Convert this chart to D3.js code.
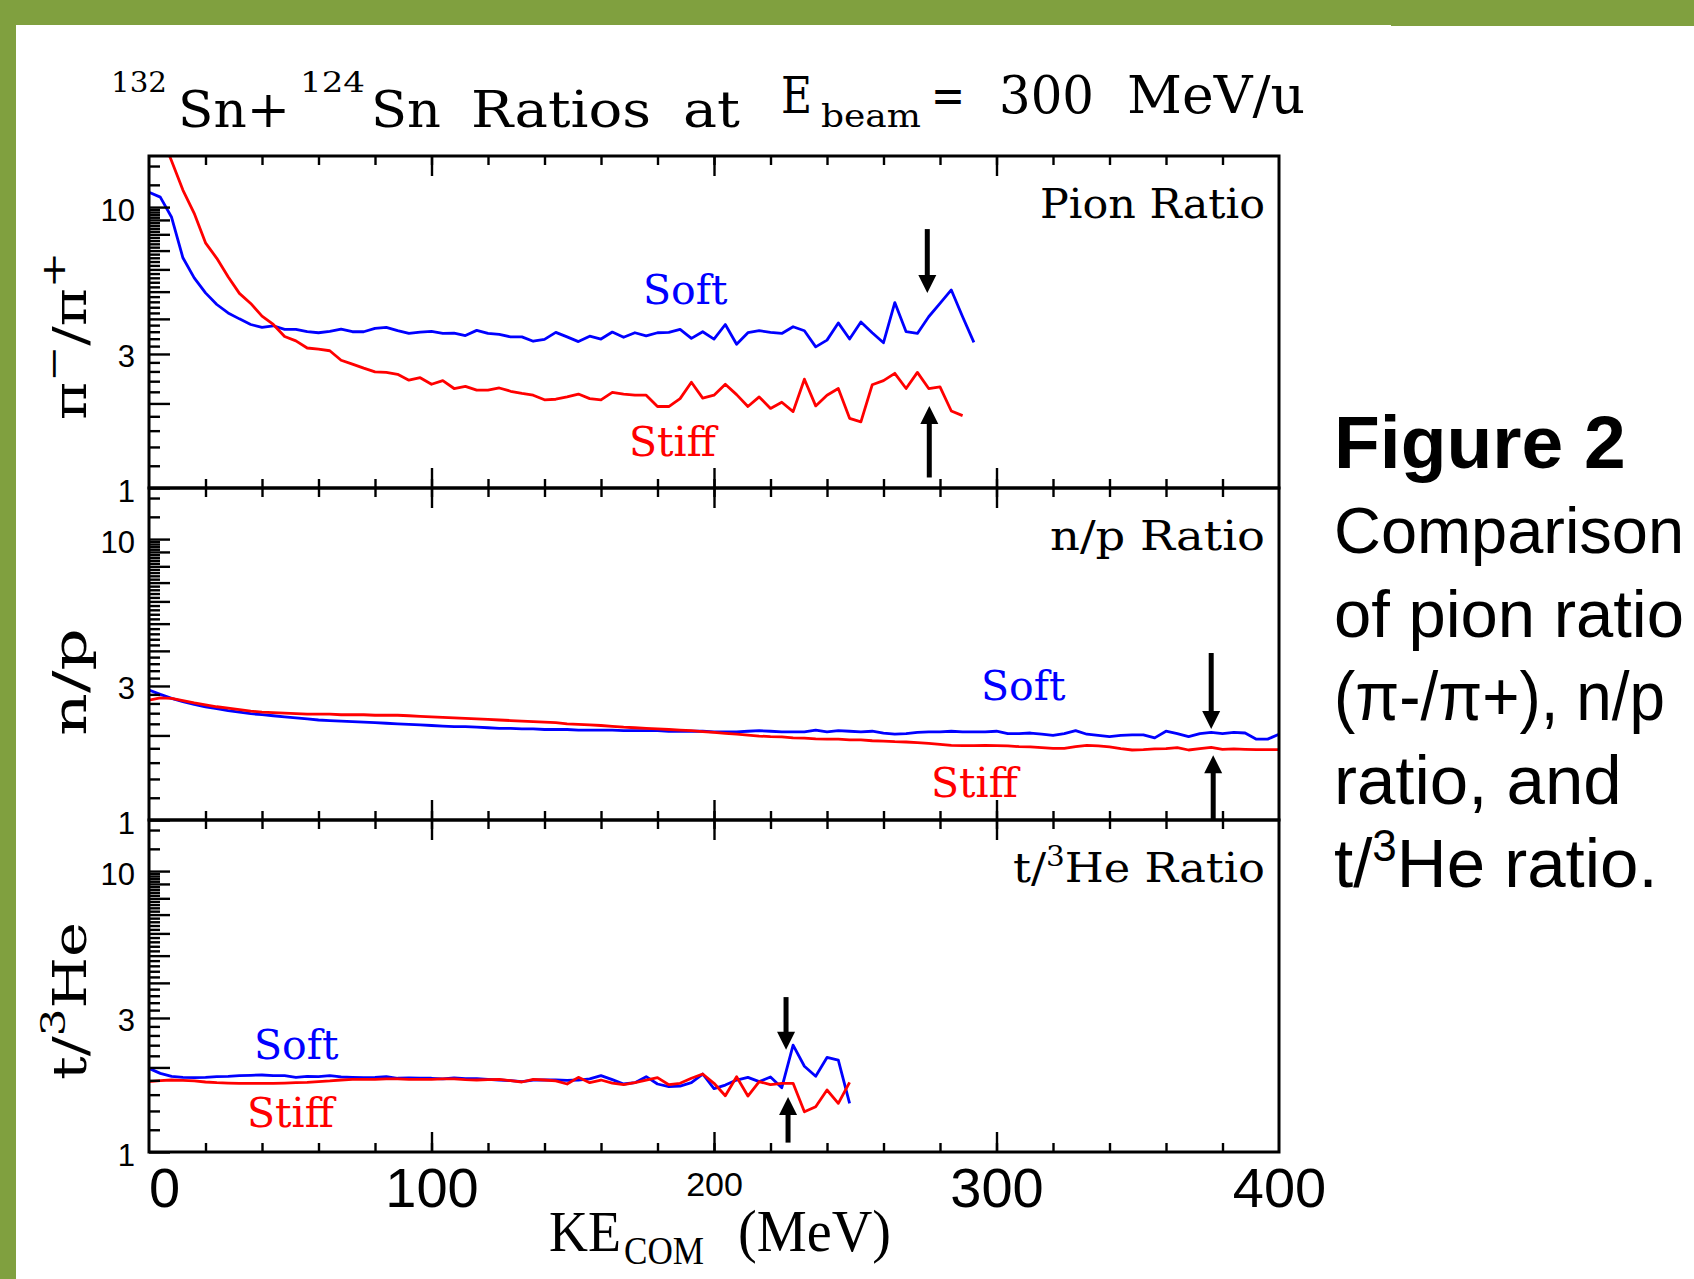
<!DOCTYPE html>
<html>
<head>
<meta charset="utf-8">
<script src="https://cdn.jsdelivr.net/npm/d3@7"></script>
<style>
  html, body { margin: 0; padding: 0; background: #fff; }
  svg { display: block; }
</style>
</head>
<body>
<div id="wrapper"></div>
<script>
// ratios are histogrammed in 4 MeV bins, first bin at 0 MeV
const binMeV = 4;

const pionSoft = [11.3, 10.85, 9.2, 6.6, 5.6, 4.95, 4.5, 4.2, 4.0, 3.82,
  3.73, 3.78, 3.67, 3.67, 3.60, 3.57, 3.61, 3.68, 3.60, 3.60,
  3.70, 3.73, 3.63, 3.55, 3.59, 3.61, 3.55, 3.56, 3.49, 3.64,
  3.55, 3.52, 3.45, 3.45, 3.33, 3.38, 3.58, 3.45, 3.32, 3.47,
  3.39, 3.59, 3.44, 3.57, 3.48, 3.57, 3.58, 3.67, 3.41, 3.60,
  3.39, 3.82, 3.25, 3.57, 3.63, 3.58, 3.55, 3.75, 3.63, 3.18,
  3.36, 3.87, 3.39, 3.90, 3.57, 3.29, 4.57, 3.60, 3.55, 4.07,
  4.54, 5.07, 4.07, 3.30];

const pionStiff = [23, 18.3, 14.6, 11.5, 9.5, 7.46, 6.57, 5.65, 4.93, 4.54,
  4.09, 3.82, 3.46, 3.34, 3.15, 3.12, 3.08, 2.85, 2.76, 2.67,
  2.59, 2.58, 2.54, 2.42, 2.47, 2.34, 2.41, 2.26, 2.30, 2.23,
  2.23, 2.27, 2.21, 2.17, 2.14, 2.06, 2.07, 2.11, 2.16, 2.08,
  2.06, 2.19, 2.16, 2.14, 2.14, 1.95, 1.95, 2.08, 2.38, 2.09,
  2.14, 2.34, 2.15, 1.95, 2.11, 1.92, 2.02, 1.87, 2.44, 1.96,
  2.14, 2.26, 1.77, 1.72, 2.33, 2.41, 2.56, 2.26, 2.58, 2.26,
  2.29, 1.88, 1.81];

const npSoft = [2.90, 2.80, 2.71, 2.64, 2.58, 2.53, 2.49, 2.45, 2.42, 2.39,
  2.37, 2.35, 2.33, 2.31, 2.29, 2.27, 2.26, 2.25, 2.24, 2.23,
  2.22, 2.21, 2.20, 2.19, 2.18, 2.17, 2.16, 2.15, 2.15, 2.14,
  2.13, 2.12, 2.12, 2.11, 2.11, 2.10, 2.10, 2.10, 2.09, 2.09,
  2.09, 2.09, 2.08, 2.08, 2.08, 2.08, 2.07, 2.07, 2.07, 2.07,
  2.06, 2.06, 2.06, 2.07, 2.08, 2.07, 2.06, 2.06, 2.06, 2.09,
  2.06, 2.08, 2.07, 2.06, 2.07, 2.04, 2.02, 2.03, 2.05, 2.06,
  2.06, 2.07, 2.06, 2.06, 2.06, 2.07, 2.03, 2.03, 2.04, 2.02,
  2.00, 2.03, 2.08, 2.02, 2.00, 1.98, 2.00, 2.01, 2.01, 1.96,
  2.07, 2.03, 1.98, 2.03, 2.05, 2.03, 2.05, 2.04, 1.94, 1.94,
  2.02];

const npStiff = [2.67, 2.72, 2.71, 2.66, 2.61, 2.57, 2.53, 2.50, 2.47, 2.44,
  2.42, 2.41, 2.40, 2.39, 2.38, 2.38, 2.38, 2.37, 2.37, 2.37,
  2.36, 2.36, 2.36, 2.35, 2.34, 2.33, 2.32, 2.31, 2.30, 2.29,
  2.28, 2.27, 2.26, 2.25, 2.24, 2.23, 2.22, 2.20, 2.19, 2.18,
  2.17, 2.155, 2.14, 2.13, 2.12, 2.11, 2.10, 2.09, 2.08, 2.065,
  2.05, 2.035, 2.02, 2.005, 1.99, 1.98, 1.975, 1.96, 1.955, 1.945,
  1.94, 1.94, 1.93, 1.93, 1.915, 1.91, 1.90, 1.895, 1.885, 1.874,
  1.86, 1.845, 1.84, 1.84, 1.845, 1.84, 1.835, 1.825, 1.82, 1.81,
  1.80, 1.80, 1.825, 1.845, 1.835, 1.82, 1.795, 1.775, 1.78, 1.79,
  1.795, 1.81, 1.775, 1.795, 1.815, 1.785, 1.79, 1.785, 1.78, 1.78,
  1.78];

const tHeSoft = [1.985, 1.905, 1.86, 1.844, 1.84, 1.845, 1.854, 1.86, 1.87, 1.875,
  1.88, 1.87, 1.87, 1.844, 1.86, 1.854, 1.87, 1.85, 1.844, 1.84,
  1.844, 1.854, 1.83, 1.834, 1.83, 1.83, 1.82, 1.834, 1.825, 1.825,
  1.814, 1.804, 1.794, 1.78, 1.804, 1.804, 1.804, 1.80, 1.804, 1.82,
  1.87, 1.81, 1.746, 1.765, 1.854, 1.746, 1.708, 1.717, 1.765, 1.895,
  1.68, 1.731, 1.804, 1.844, 1.78, 1.85, 1.694, 2.40, 2.02, 1.86,
  2.17, 2.125, 1.49];

const tHeStiff = [1.78, 1.794, 1.804, 1.80, 1.79, 1.775, 1.765, 1.76, 1.756, 1.756,
  1.756, 1.756, 1.76, 1.765, 1.77, 1.78, 1.79, 1.804, 1.814, 1.814,
  1.814, 1.82, 1.82, 1.814, 1.814, 1.814, 1.82, 1.82, 1.81, 1.804,
  1.81, 1.814, 1.794, 1.775, 1.814, 1.804, 1.79, 1.746, 1.844, 1.765,
  1.804, 1.76, 1.736, 1.765, 1.804, 1.839, 1.736, 1.756, 1.83, 1.895,
  1.756, 1.586, 1.854, 1.582, 1.78, 1.736, 1.756, 1.756, 1.39, 1.45,
  1.662, 1.49, 1.77];

const xTickLabels = [0, 100, 200, 300, 400];
const xMajorTicks = [100, 200, 300];
const yTickLabels = [1, 3, 10];
const captionLines = ["Comparison", "of pion ratio", "(\u03c0-/\u03c0+), n/p", "ratio, and"];

const serif = "'DejaVu Serif', serif";
const sans = "'Liberation Sans', Arial, sans-serif";

// layout of the three stacked panels
const panels = [
  { id: "pion", top: 156, soft: pionSoft, stiff: pionStiff, name: ["Pion Ratio"], nameLen: 225,
    title: [["\u03c0", 0], ["\u2212", -1], ["/", 0], ["\u03c0", 0], ["+", -1]], titleY: 336, titleLen: 168,
    softAt: [643, 304], stiffAt: [629, 456], arrowMeV: 275.5, down: [8.35, 4.94], up: [1.96, 1.09] },
  { id: "np", top: 488, soft: npSoft, stiff: npStiff, name: ["n/p Ratio"], nameLen: 215,
    title: [["n/p", 0]], titleY: 682, titleLen: 108,
    softAt: [981, 700], stiffAt: [931, 797], arrowMeV: 376, down: [3.93, 2.11], up: [1.70, 1.0] },
  { id: "the", top: 820, soft: tHeSoft, stiff: tHeStiff, name: ["t/", "3", "He Ratio"], nameLen: 252,
    title: [["t/", 0], ["3", -1], ["He", 0]], titleY: 1001, titleLen: 158,
    softAt: [254, 1059], stiffAt: [247, 1127], arrowMeV: 225.5, down: [3.56, 2.31], up: [1.57, 1.08] },
];

function buildChart() {
  const dimensions = { width: 1694, height: 1279, panelHeight: 332 };

  const svg = d3.select("#wrapper").append("svg")
    .attr("width", dimensions.width)
    .attr("height", dimensions.height);

  svg.append("rect")
    .attr("width", dimensions.width)
    .attr("height", dimensions.height)
    .attr("fill", "#fff");

  // green slide border
  const green = "#80a03f";
  svg.append("rect").attr("x", 0).attr("y", 0).attr("width", 1392).attr("height", 25).attr("fill", green);
  svg.append("rect").attr("x", 1391).attr("y", 0).attr("width", 303).attr("height", 26).attr("fill", green);
  svg.append("rect").attr("x", 0).attr("y", 0).attr("width", 16).attr("height", dimensions.height).attr("fill", green);

  const x = d3.scaleLinear().domain([0, 400]).range([149, 1279]);

  const yLong = d3.range(1, 11);
  const yShort = d3.range(1.2, 10, 0.2)
    .filter(v => Math.abs(v - Math.round(v)) > 0.01)
    .concat([12, 14]);

  const defs = svg.append("defs");

  panels.forEach(p => {
    const bottom = p.top + dimensions.panelHeight;
    const y = d3.scaleLog().domain([1, 15.2]).range([bottom, p.top]);

    defs.append("clipPath").attr("id", `clip-${p.id}`)
      .append("rect")
      .attr("x", x(0)).attr("y", p.top)
      .attr("width", x(400) - x(0)).attr("height", dimensions.panelHeight);

    const line = d3.line()
      .x((d, i) => x(i * binMeV))
      .y(d => y(d));

    const curves = svg.append("g").attr("clip-path", `url(#clip-${p.id})`);
    curves.append("path").datum(p.soft)
      .attr("d", line).attr("fill", "none")
      .attr("stroke", "#0000ff").attr("stroke-width", 2.8).attr("stroke-linejoin", "round");
    curves.append("path").datum(p.stiff)
      .attr("d", line).attr("fill", "none")
      .attr("stroke", "#ff0000").attr("stroke-width", 2.8).attr("stroke-linejoin", "round");

    // x ticks on top and bottom edge of every panel, pointing inwards
    const xAxes = [
      { axis: d3.axisBottom, at: p.top },
      { axis: d3.axisTop, at: bottom },
    ];
    xAxes.forEach(a => {
      svg.append("g").attr("transform", `translate(0,${a.at})`)
        .call(a.axis(x).tickValues(d3.range(20, 400, 20)).tickSize(9).tickFormat(""))
        .call(g => g.select(".domain").remove());
      svg.append("g").attr("transform", `translate(0,${a.at})`)
        .call(a.axis(x).tickValues(xMajorTicks).tickSize(20).tickFormat(""))
        .call(g => g.select(".domain").remove());
    });

    // log y ticks on the left edge
    svg.append("g").attr("transform", `translate(${x(0)},0)`)
      .call(d3.axisLeft(y).tickValues(yShort).tickSizeInner(-11).tickSizeOuter(0).tickFormat(""))
      .call(g => g.select(".domain").remove());
    svg.append("g").attr("transform", `translate(${x(0)},0)`)
      .call(d3.axisLeft(y).tickValues(yLong).tickSizeInner(-21).tickSizeOuter(0).tickPadding(14)
        .tickFormat(d => yTickLabels.includes(d) ? d : ""))
      .call(g => g.select(".domain").remove())
      .call(g => g.selectAll("text")
        .attr("font-family", sans).attr("font-size", 31).attr("dy", "0.42em").attr("fill", "#000"));

    svg.selectAll(".tick line").attr("stroke", "#000").attr("stroke-width", 2.4);

    // frame
    svg.append("rect")
      .attr("x", x(0)).attr("y", p.top)
      .attr("width", x(400) - x(0)).attr("height", dimensions.panelHeight)
      .attr("fill", "none").attr("stroke", "#000").attr("stroke-width", 3);

    // panel name, top right
    const name = svg.append("text")
      .attr("x", 1265).attr("y", p.top + 62)
      .attr("text-anchor", "end")
      .attr("font-family", serif).attr("font-size", 41).attr("fill", "#000")
      .attr("textLength", p.nameLen).attr("lengthAdjust", "spacingAndGlyphs");
    if (p.name.length === 1) {
      name.text(p.name[0]);
    } else {
      name.append("tspan").text(p.name[0]);
      name.append("tspan").attr("dy", -16).attr("font-size", 27).text(p.name[1]);
      name.append("tspan").attr("dy", 16).text(p.name[2]);
    }

    // series labels
    svg.append("text").attr("x", p.softAt[0]).attr("y", p.softAt[1])
      .attr("font-family", serif).attr("font-size", 41).attr("fill", "#0000ff").text("Soft");
    svg.append("text").attr("x", p.stiffAt[0]).attr("y", p.stiffAt[1])
      .attr("font-family", serif).attr("font-size", 41).attr("fill", "#ff0000").text("Stiff");

    // rotated y title
    const title = svg.append("text")
      .attr("transform", `translate(86,${p.titleY}) rotate(-90)`)
      .attr("text-anchor", "middle")
      .attr("font-family", serif).attr("font-size", 46).attr("fill", "#000")
      .attr("textLength", p.titleLen).attr("lengthAdjust", "spacingAndGlyphs");
    let raised = 0;
    p.title.forEach(([t, r]) => {
      const shift = r < 0 ? -21 : 0;
      title.append("tspan")
        .attr("dy", shift - raised)
        .attr("font-size", r < 0 ? 34 : 46)
        .text(t);
      raised = shift;
    });

    // arrows marking the spread between soft and stiff
    const ax = x(p.arrowMeV);
    const head = 18, half = 9;
    const arrow = svg.append("g").attr("fill", "#000").attr("stroke", "#000");
    arrow.append("line")
      .attr("x1", ax).attr("x2", ax)
      .attr("y1", y(p.down[0])).attr("y2", y(p.down[1]) - head + 2)
      .attr("stroke-width", 5);
    arrow.append("path")
      .attr("stroke", "none")
      .attr("d", `M${ax - half},${y(p.down[1]) - head}L${ax + half},${y(p.down[1]) - head}L${ax},${y(p.down[1])}Z`);
    arrow.append("line")
      .attr("x1", ax + 2).attr("x2", ax + 2)
      .attr("y1", y(p.up[1])).attr("y2", y(p.up[0]) + head - 2)
      .attr("stroke-width", 5);
    arrow.append("path")
      .attr("stroke", "none")
      .attr("d", `M${ax + 2 - half},${y(p.up[0]) + head}L${ax + 2 + half},${y(p.up[0]) + head}L${ax + 2},${y(p.up[0])}Z`);
  });

  // x labels under the bottom panel
  svg.append("g").attr("transform", "translate(0,1152)")
    .call(d3.axisBottom(x).tickValues(xTickLabels).tickSize(0).tickFormat(d3.format("d")))
    .call(g => g.select(".domain").remove())
    .call(g => g.selectAll("text")
      .attr("font-family", sans).attr("fill", "#000")
      .attr("dy", null)
      .attr("font-size", d => d === 200 ? 34 : 56)
      .attr("y", d => d === 200 ? 44 : 55)
      .attr("dx", d => d === 0 ? 15 : 0));

  // x title
  const xTitle = [
    { t: "KE", x: 549, y: 1251, size: 58, len: 72 },
    { t: "COM", x: 624, y: 1264, size: 40, len: 80 },
    { t: "(MeV)", x: 738, y: 1251, size: 60, len: 153 },
  ];
  xTitle.forEach(d => {
    svg.append("text").attr("x", d.x).attr("y", d.y)
      .attr("font-family", "'Liberation Serif', 'Times New Roman', serif")
      .attr("font-size", d.size).attr("fill", "#000")
      .attr("textLength", d.len).attr("lengthAdjust", "spacingAndGlyphs")
      .text(d.t);
  });

  // chart title
  const titleParts = [
    { t: "132", x: 111, y: 92, size: 28, len: 56 },
    { t: "Sn+", x: 178, y: 127, size: 50, len: 112 },
    { t: "124", x: 300, y: 92, size: 28, len: 65 },
    { t: "Sn", x: 371, y: 127, size: 50, len: 70 },
    { t: "Ratios", x: 471, y: 127, size: 50, len: 180 },
    { t: "at", x: 683, y: 127, size: 50, len: 57 },
    { t: "E", x: 781, y: 113, size: 50, len: 31 },
    { t: "beam", x: 821, y: 127, size: 32, len: 100 },
    { t: "=", x: 931, y: 113, size: 50, len: 34 },
    { t: "300", x: 999, y: 113, size: 52, len: 95 },
    { t: "MeV/u", x: 1127, y: 113, size: 52, len: 178 },
  ];
  titleParts.forEach(d => {
    svg.append("text").attr("x", d.x).attr("y", d.y)
      .attr("font-family", serif).attr("font-size", d.size).attr("fill", "#000")
      .attr("textLength", d.len).attr("lengthAdjust", "spacingAndGlyphs")
      .text(d.t);
  });

  // caption on the right (first two lines sized to stay inside the page)
  svg.append("text").attr("x", 1334).attr("y", 468)
    .attr("font-family", sans).attr("font-weight", "bold").attr("font-size", 75)
    .text("Figure 2");
  const baselines = [553, 637, 720, 804];
  const lineSize = [65, 67, 69, 69];
  const lineLen = [350, 350, 331, null];
  captionLines.forEach((t, i) => {
    const line = svg.append("text").attr("x", 1334).attr("y", baselines[i])
      .attr("font-family", sans).attr("font-size", lineSize[i]).text(t);
    if (lineLen[i]) line.attr("textLength", lineLen[i]).attr("lengthAdjust", "spacingAndGlyphs");
  });
  const last = svg.append("text").attr("x", 1334).attr("y", 887)
    .attr("font-family", sans).attr("font-size", 69);
  last.append("tspan").text("t/");
  last.append("tspan").attr("dy", -26).attr("font-size", 44).text("3");
  last.append("tspan").attr("dy", 26).text("He ratio.");
}

buildChart();
</script>
</body>
</html>
